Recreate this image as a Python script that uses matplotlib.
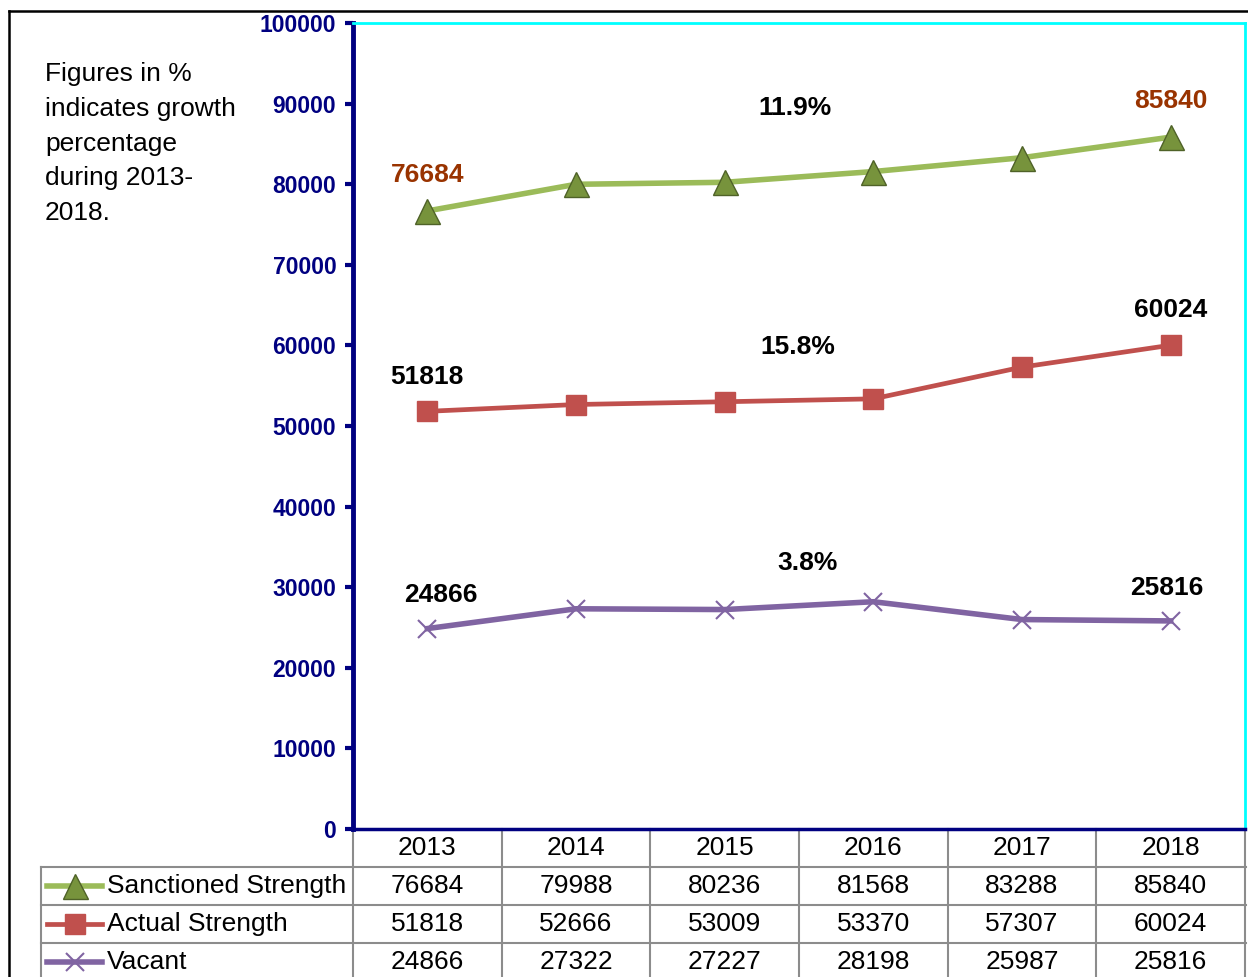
import matplotlib
matplotlib.use("Agg")
import matplotlib.pyplot as plt
from matplotlib import transforms
from matplotlib.lines import Line2D

plt.rcParams["font.family"] = ["Liberation Sans", "DejaVu Sans"]

years = ["2013", "2014", "2015", "2016", "2017", "2018"]
sanctioned = [76684, 79988, 80236, 81568, 83288, 85840]
actual = [51818, 52666, 53009, 53370, 57307, 60024]
vacant = [24866, 27322, 27227, 28198, 25987, 25816]
series_names = ["Sanctioned Strength", "Actual Strength", "Vacant"]
growth_labels = ["11.9%", "15.8%", "3.8%"]
growth_pos = [(2.47, 89500), (2.49, 59800), (2.56, 33000)]
note = "Figures in %\nindicates growth\npercentage\nduring 2013-\n2018."

W, H = 1248, 977
fig = plt.figure(figsize=(W / 100, H / 100), dpi=100)

def fx(px):
	return px / W

def fy(py):
	return 1 - py / H

ax = fig.add_axes([fx(353), fy(829), fx(1245) - fx(353), fy(23) - fy(829)])
x = list(range(len(years)))

green, red, purple = "#9BBB59", "#C0504D", "#8064A2"
styles = [
	dict(color=green, lw=4, marker="^", ms=18, mfc="#77933C", mec="#4F6228", mew=1),
	dict(color=red, lw=3.4, marker="s", ms=14.5, mfc=red, mec=red),
	dict(color=purple, lw=4, marker="x", ms=13.5, mec=purple, mew=1.5),
]
for vals, st in zip([sanctioned, actual, vacant], styles):
	ax.plot(x, vals, zorder=3, **st)

ax.set_xlim(-0.5, 5.5)
ax.set_ylim(0, 100000)
ax.set_yticks(range(0, 100001, 10000))
ax.set_xticks([])
ax.tick_params(axis="y", colors="#000080", labelsize=16.5, width=3, length=6, pad=6)
for lbl in ax.get_yticklabels():
	lbl.set_fontweight("bold")
ax.spines["left"].set_color("#000080")
ax.spines["left"].set_linewidth(3.5)
ax.spines["bottom"].set_color("#000080")
ax.spines["bottom"].set_linewidth(2.5)
ax.spines["top"].set_color("#00FFFF")
ax.spines["right"].set_color("#00FFFF")
ax.spines["top"].set_linewidth(2)
ax.spines["right"].set_linewidth(2)

# end point labels
brown = "#993300"
lab_kw = dict(textcoords="offset points", ha="center", va="center", fontsize=19, fontweight="bold")
ax.annotate(str(sanctioned[0]), (0, sanctioned[0]), xytext=(0, 26), color=brown, **lab_kw)
ax.annotate(str(sanctioned[-1]), (5, sanctioned[-1]), xytext=(0, 26), color=brown, **lab_kw)
ax.annotate(str(actual[0]), (0, actual[0]), xytext=(0, 25), color="black", **lab_kw)
ax.annotate(str(actual[-1]), (5, actual[-1]), xytext=(0, 25), color="black", **lab_kw)
ax.annotate(str(vacant[0]), (0, vacant[0]), xytext=(10, 24), color="black", **lab_kw)
ax.annotate(str(vacant[-1]), (5, vacant[-1]), xytext=(-3, 24), color="black", **lab_kw)

for txt, (gx, gy) in zip(growth_labels, growth_pos):
	ax.text(gx, gy, txt, ha="center", va="center", fontsize=19, fontweight="bold")

fig.text(fx(45), fy(62), note, ha="left", va="top", fontsize=19, linespacing=1.57)

# outer frame
fig.add_artist(Line2D([fx(9), 1], [fy(11), fy(11)], color="black", lw=1.8))
fig.add_artist(Line2D([fx(9), fx(9)], [fy(11), 0], color="black", lw=1.8))

# data table under the axis
blend = transforms.blended_transform_factory(ax.transData, fig.transFigure)
grey = "#8C8C8C"
row_tops = [829, 867, 905, 943]
row_bottom = 985
for i in range(len(years) + 1):
	ax.plot([i - 0.5, i - 0.5], [fy(829), fy(row_bottom)], color=grey, lw=1.5, transform=blend, clip_on=False)
for py in row_tops[1:]:
	fig.add_artist(Line2D([fx(41), fx(1246)], [fy(py), fy(py)], color=grey, lw=1.5))
fig.add_artist(Line2D([fx(41), fx(41)], [fy(867), 0], color=grey, lw=1.5))

for i, yr in enumerate(years):
	ax.text(i, fy(848), yr, transform=blend, ha="center", va="center", fontsize=19)
	for r, vals in enumerate([sanctioned, actual, vacant]):
		ax.text(i, fy(886 + 38 * r), str(vals[i]), transform=blend, ha="center", va="center", fontsize=19)

for r, (name, st) in enumerate(zip(series_names, styles)):
	cy = fy(886 + 38 * r)
	fig.add_artist(Line2D([fx(47), fx(75), fx(102)], [cy, cy, cy], markevery=[1], **st))
	fig.text(fx(107), cy, name, ha="left", va="center", fontsize=19)

fig.savefig("out.png", dpi=100)
